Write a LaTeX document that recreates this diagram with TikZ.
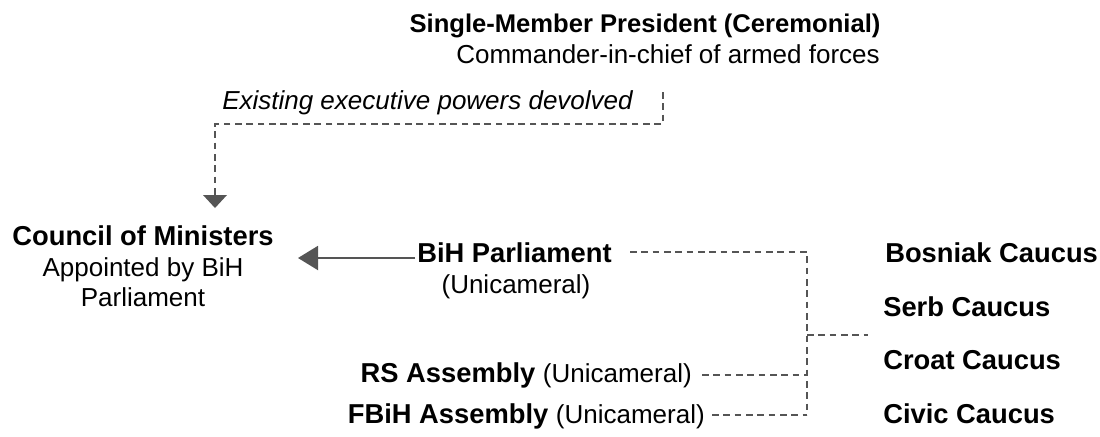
\documentclass[tikz,border=0pt]{standalone}
\usepackage{fontspec}
\setmainfont{Liberation Sans}
\usepackage{xcolor}
\usetikzlibrary{arrows.meta}
\definecolor{linegray}{HTML}{555555}

\tikzset{
    boldlabel/.style={font=\fontsize{20.5}{24}\selectfont\bfseries, inner sep=0pt},
    plainlabel/.style={font=\fontsize{19.5}{23}\selectfont, inner sep=0pt},
    dashlink/.style={draw=linegray, line width=1.5pt, dash pattern=on 5pt off 3.5pt},
    solidlink/.style={draw=linegray, line width=1.5pt}
}

\begin{document}
\begin{tikzpicture}[x=0.75pt, y=-0.75pt]
    % Bounding box
    \useasboundingbox (0,0) rectangle (1100,436);

    % President
    \node[boldlabel, anchor=base, font=\fontsize{19.2}{23}\selectfont\bfseries] (pres) at (645,32) {Single-Member President (Ceremonial)};
    \node[plainlabel, anchor=base] (presdesc) at (668,63) {Commander-in-chief of armed forces};
    \node[plainlabel, anchor=base west, font=\fontsize{19.5}{23}\selectfont\itshape] (devolve) at (222,109) {Existing executive powers devolved};

    % Council of Ministers
    \node[boldlabel, anchor=base] (council) at (143,245) {Council of Ministers};
    \node[plainlabel, anchor=base] (councildesc) at (143,276) {Appointed by BiH};
    \node[plainlabel, anchor=base] (councildesc2) at (143,306) {Parliament};

    % Parliament and assemblies
    \node[boldlabel, anchor=base west] (parl) at (417,262) {BiH Parliament};
    \node[plainlabel, anchor=base] (parldesc) at (516,293) {(Unicameral)};
    \node[anchor=base east, inner sep=0pt] (rs) at (692,382) {\fontsize{20.5}{24}\selectfont\bfseries RS Assembly \fontsize{19.5}{23}\selectfont\mdseries(Unicameral)};
    \node[anchor=base east, inner sep=0pt] (fbih) at (705,423) {\fontsize{20.5}{24}\selectfont\bfseries FBiH Assembly \fontsize{19.5}{23}\selectfont\mdseries(Unicameral)};

    % Caucuses
    \node[boldlabel, anchor=base west] (bosniak) at (885,262) {Bosniak Caucus};
    \node[boldlabel, anchor=base west] (serb) at (883,316) {Serb Caucus};
    \node[boldlabel, anchor=base west] (croat) at (883,369) {Croat Caucus};
    \node[boldlabel, anchor=base west] (civic) at (883,423) {Civic Caucus};

    % Junction points
    \coordinate (topend) at (663,92);
    \coordinate (arrowtip) at (215,208);
    \coordinate (busright) at (807,252);
    \coordinate (busbottom) at (807,415);
    \coordinate (busmid) at (807,335);
    \coordinate (caucusend) at (868,335);

    % Devolved powers
    \draw[dashlink] (topend) -- (663,124) -- (215,124) -- (215,196);
    \fill[linegray] (203,195) -- (227,195) -- (arrowtip) -- cycle;

    % Parliament appoints council
    \draw[solidlink, -{Triangle[length=20pt*0.75, width=24pt*0.75]}] (415,258) -- (298,258);

    % Links to caucuses
    \draw[dashlink] (630,252) -- (busright) -- (busbottom);
    \draw[dashlink] (702,375) -- (807,375);
    \draw[dashlink] (712,415) -- (busbottom);
    \draw[dashlink] (busmid) -- (caucusend);
\end{tikzpicture}
\end{document}
